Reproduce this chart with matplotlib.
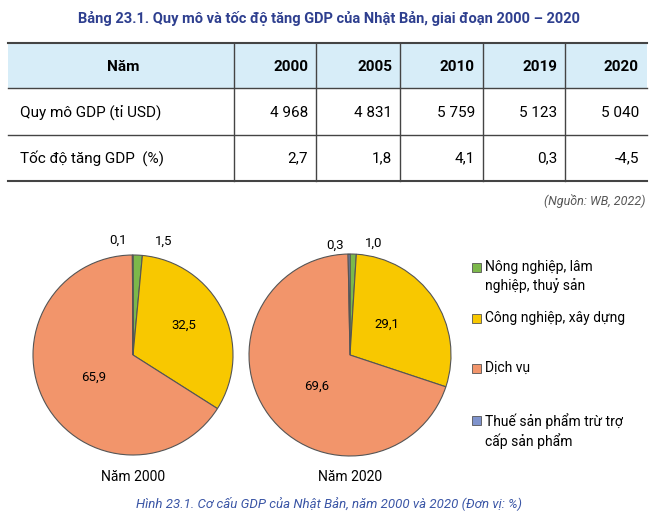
import matplotlib.pyplot as plt
from matplotlib.patches import Rectangle

plt.rcParams['font.family'] = ['Roboto', 'DejaVu Sans']

# ---------------- data ----------------
years = ['2000', '2005', '2010', '2019', '2020']
gdp_size = ['4 968', '4 831', '5 759', '5 123', '5 040']
gdp_growth = ['2,7', '1,8', '4,1', '0,3', '-4,5']
row_labels = ['Quy mô GDP (tỉ USD)', 'Tốc độ tăng GDP  (%)']

sectors = ['Nông nghiệp, lâm\nnghiệp, thuỷ sản', 'Công nghiệp, xây dựng',
           'Dịch vụ', 'Thuế sản phẩm trừ trợ\ncấp sản phẩm']
share_2000 = [1.5, 32.5, 65.9, 0.1]
share_2020 = [1.0, 29.1, 69.6, 0.3]
colors = ['#7cb84a', '#f8c800', '#f2956b', '#7f93cc']

W, H = 659, 521
fig = plt.figure(figsize=(W / 100, H / 100), dpi=100)


# ---------------- pies (drawn first, overlay axes on top) ----------------
def pie_axes(cx, cy, r, shares):
    pa = fig.add_axes([(cx - r) / W, 1 - (cy + r) / H, 2 * r / W, 2 * r / H])
    pa.pie(shares, colors=colors, startangle=90, counterclock=False,
           wedgeprops=dict(edgecolor='#555555', linewidth=0.8))
    pa.set_xlim(-1.01, 1.01)
    pa.set_ylim(-1.01, 1.01)
    pa.set_aspect('equal')
    pa.axis('off')

pie_axes(133, 355, 101, share_2000)
pie_axes(350, 355, 102, share_2020)

ax = fig.add_axes([0, 0, 1, 1])
ax.set_facecolor('none')
ax.set_xlim(0, W)
ax.set_ylim(H, 0)
ax.axis('off')

blue = '#2e3f8f'
ax.text(329, 19, 'Bảng 23.1. Quy mô và tốc độ tăng GDP của Nhật Bản, giai đoạn 2000 – 2020',
        ha='center', va='center', fontsize=10.5, fontweight='bold', color=blue)

# ---------------- table ----------------
left, right = 8, 647
rows_y = [43, 88, 135, 181]
col_x = [left, 234, 316, 400, 483, 565, right]
ax.add_patch(Rectangle((left, rows_y[0]), right - left, rows_y[1] - rows_y[0],
                       facecolor='#d7edf8', edgecolor='none'))
for y in rows_y:
    lw = 1.5 if y in (rows_y[0], rows_y[-1]) else 1.0
    ax.plot([left, right], [y, y], color='#444444', lw=lw)
for x in col_x[1:-1]:
    ax.plot([x, x], [rows_y[0], rows_y[-1]], color='#444444', lw=1.0)

ax.text(123, 67, 'Năm', ha='center', va='center', fontsize=11, fontweight='bold')
for i, yr in enumerate(years):
    xr = col_x[i + 2] - 8
    ax.text(xr, 67, yr, ha='right', va='center', fontsize=11, fontweight='bold')
    ax.text(xr, 113, gdp_size[i], ha='right', va='center', fontsize=11)
    ax.text(xr, 158, gdp_growth[i], ha='right', va='center', fontsize=11)
ax.text(20, 113, row_labels[0], ha='left', va='center', fontsize=11)
ax.text(20, 158, row_labels[1], ha='left', va='center', fontsize=11)
ax.text(645, 201, '(Nguồn: WB, 2022)', ha='right', va='center', fontsize=9,
        style='italic', color='#555555')

# pie labels
ax.text(118, 240, '0,1', ha='center', va='center', fontsize=9.5)
ax.text(164, 241, '1,5', ha='center', va='center', fontsize=9.5)
ax.text(184, 325, '32,5', ha='center', va='center', fontsize=9.5)
ax.text(94, 377, '65,9', ha='center', va='center', fontsize=9.5)
ax.text(335, 245, '0,3', ha='center', va='center', fontsize=9.5)
ax.text(374, 243, '1,0', ha='center', va='center', fontsize=9.5)
ax.text(387, 324, '29,1', ha='center', va='center', fontsize=9.5)
ax.text(317, 386, '69,6', ha='center', va='center', fontsize=9.5)
ax.text(133, 477, 'Năm 2000', ha='center', va='center', fontsize=10)
ax.text(350, 477, 'Năm 2020', ha='center', va='center', fontsize=10)

# legend
leg_y = [267, 318, 368, 420]
for c, lab, y in zip(colors, sectors, leg_y):
    ax.add_patch(Rectangle((472, y - 4.5), 9, 9, facecolor=c, edgecolor='#555555', lw=0.6))
    ax.text(485, y - 7, lab, ha='left', va='top', fontsize=10, linespacing=1.3)

ax.text(329, 503, 'Hình 23.1. Cơ cấu GDP của Nhật Bản, năm 2000 và 2020 (Đơn vị: %)',
        ha='center', va='center', fontsize=9.5, style='italic', color='#3b56a6')

fig.savefig('out.png', dpi=100)
